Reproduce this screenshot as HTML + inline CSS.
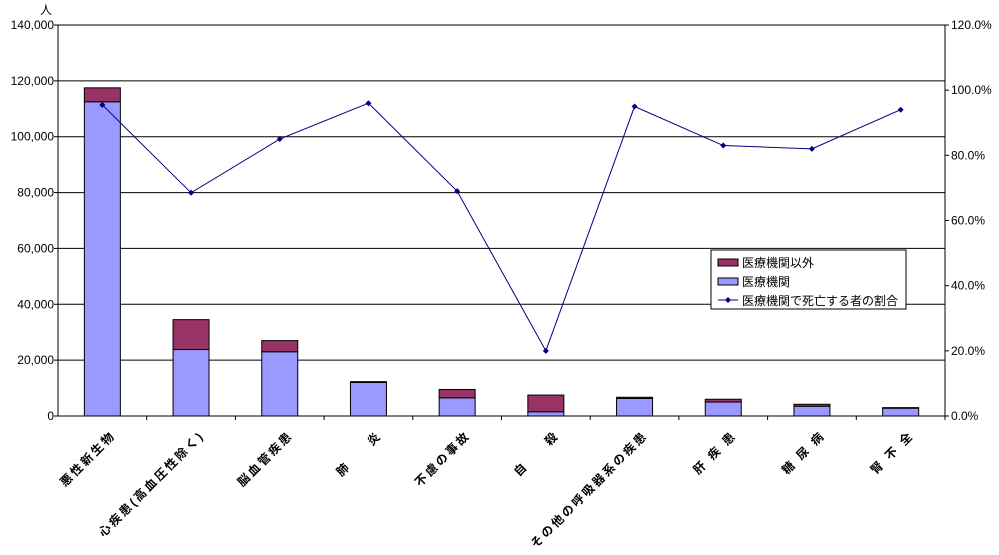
<!DOCTYPE html>
<html><head><meta charset="utf-8"><style>
body{margin:0;background:#fff}
svg text{font-family:"Liberation Sans","Noto Sans CJK JP",sans-serif;font-size:12px;fill:#000}
</style></head><body>
<svg id="c" width="999" height="550" xmlns="http://www.w3.org/2000/svg"></svg>
<script>
const categories=["悪性新生物","心疾患(高血圧性除く)","脳血管疾患","肺　　炎","不慮の事故","自　　殺","その他の呼吸器系の疾患","肝 疾 患","糖 尿 病","腎 不 全"];
const medical=[112500,23800,23000,12000,6500,1500,6300,5000,3500,2800];
const totals=[117500,34500,27000,12300,9500,7500,6700,6000,4200,3000];
const ratio=[95.5,68.5,85,96,69,20,95,83,82,94];
const leftTicks=[0,20000,40000,60000,80000,100000,120000,140000];
const rightTicks=[0,20,40,60,80,100,120];
const NS="http://www.w3.org/2000/svg",svg=document.getElementById('c');
const L=58,R=945,T=25,B=416;
const y=v=>B-(v/140000)*(B-T), yr=v=>B-(v/120)*(B-T);
const slot=(R-L)/categories.length, cx=i=>L+slot*(i+0.5);
function el(t,a,p){const e=document.createElementNS(NS,t);for(const k in a)e.setAttribute(k,a[k]);(p||svg).appendChild(e);return e;}
const g=el('g',{});
leftTicks.forEach(v=>{if(v>0){const l=el('line',{x1:L,x2:R,y1:y(v),y2:y(v),stroke:'#000'},g);}
const t=el('text',{x:L-4,y:y(v)+4,'text-anchor':'end'});t.textContent=v.toLocaleString('en-US');
el('line',{x1:L-4,x2:L,y1:y(v),y2:y(v),stroke:'#000'});});
rightTicks.forEach(v=>{const t=el('text',{x:R+6,y:yr(v)+4});t.textContent=v.toFixed(1)+'%';
el('line',{x1:R,x2:R+4,y1:yr(v),y2:yr(v),stroke:'#000'});});
const u=el('text',{x:40,y:14,'font-size':'13'});u.textContent='人';
categories.forEach((c,i)=>{
const x=cx(i)-18;
const b1=el('rect',{x:x,y:y(medical[i]),width:36,height:B-y(medical[i]),fill:'#9999ff',stroke:'#000'});

const b2=el('rect',{x:x,y:y(totals[i]),width:36,height:y(medical[i])-y(totals[i]),fill:'#993366',stroke:'#000'});

el('line',{x1:L+slot*(i+1),x2:L+slot*(i+1),y1:B,y2:B+4,stroke:'#000'});
const t=el('text',{'text-anchor':'end','font-size':'13','font-weight':'bold','letter-spacing':'2.5',transform:`translate(${cx(i)+14},${B+20}) rotate(-45)`});t.textContent=c;

});
el('rect',{x:L,y:T,width:R-L,height:B-T,fill:'none',stroke:'#000'});
const ln=el('polyline',{points:ratio.map((v,i)=>cx(i)+','+yr(v)).join(' '),fill:'none',stroke:'#000080'});

ratio.forEach((v,i)=>{const p=el('path',{d:`M${cx(i)},${yr(v)-3}l3,3l-3,3l-3,-3z`,fill:'#000080'});});
const lg=el('g',{});
el('rect',{x:711,y:250,width:195,height:59,fill:'#fff',stroke:'#000'},lg);
el('rect',{x:718,y:259,width:20,height:7,fill:'#993366',stroke:'#000'},lg);
el('rect',{x:718,y:278,width:20,height:7,fill:'#9999ff',stroke:'#000'},lg);
el('line',{x1:718,x2:738,y1:300,y2:300,stroke:'#000080'},lg);
el('path',{d:'M728,297l3,3l-3,3l-3,-3z',fill:'#000080'},lg);
[['医療機関以外',267],['医療機関',286],['医療機関で死亡する者の割合',305]].forEach(([s,yy])=>{const t=el('text',{x:742,y:yy},lg);t.textContent=s;});
</script>
</body></html>
